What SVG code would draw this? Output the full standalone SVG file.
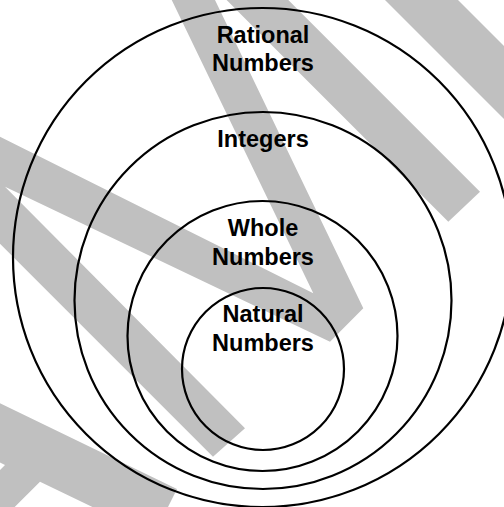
<svg xmlns="http://www.w3.org/2000/svg" width="504" height="507" viewBox="0 0 504 507">
  <style>
    .ring { fill: none; stroke: #000; stroke-width: 2.2; }
    .label { font-family: "Liberation Sans", Arial, Helvetica, sans-serif; font-weight: bold; font-size: 23.5px; fill: #000; text-anchor: middle; }
    .mark { fill: #c0c0c0; stroke: none; }
  </style>
  <rect width="504" height="507" fill="#fff"/>

  <!-- diagonal grey bands behind the sets -->
  <g id="watermark">
    <polygon class="mark" points="166.9,-10 210.2,-10 363.3,308.3 330,341.7 5,186.7 245,428.3 213,456.7 -20,223.7 -20,126.7 313.3,293.3"/>
    <polygon class="mark" points="216.6,-10 278.3,-10 480,191.7 448.3,221.7"/>
    <polygon class="mark" points="375,-10 448,-10 520,62 520,135"/>
    <polygon class="mark" points="-20,393.6 177,489 164,515 109,515 40,481.7 6.7,515 -20,515 -20,490 5,465 -20,453"/>
  </g>

  <!-- nested number sets, outermost first -->
  <g id="rational">
    <circle class="ring" cx="262.5" cy="257.5" r="249.5"/>
    <text class="label" x="263" y="43.3">Rational</text>
    <text class="label" x="263" y="71">Numbers</text>
  </g>
  <g id="integers">
    <circle class="ring" cx="263" cy="300.5" r="188.5"/>
    <text class="label" x="263" y="147.3">Integers</text>
  </g>
  <g id="whole">
    <circle class="ring" cx="262.5" cy="336" r="135"/>
    <text class="label" x="263" y="236">Whole</text>
    <text class="label" x="263" y="265">Numbers</text>
  </g>
  <g id="natural">
    <circle class="ring" cx="263" cy="369" r="81"/>
    <text class="label" x="263" y="321.7">Natural</text>
    <text class="label" x="263" y="350.7">Numbers</text>
  </g>
</svg>
